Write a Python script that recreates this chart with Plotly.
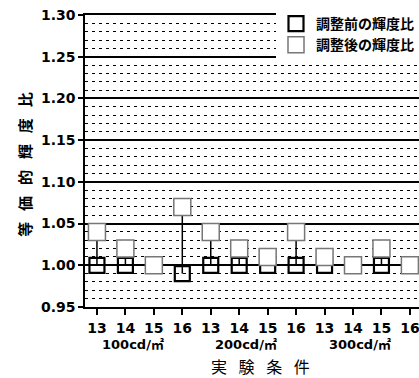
import plotly.graph_objects as go

# luminance levels and experimental conditions
levels = ["100cd/㎡", "200cd/㎡", "300cd/㎡"]
conditions = ["13", "14", "15", "16"]

# equivalent luminance ratio before / after adjustment
before = [1.00, 1.00, 1.00, 0.99, 1.00, 1.00, 1.00, 1.00, 1.00, 1.00, 1.00, 1.00]
after = [1.04, 1.02, 1.00, 1.07, 1.04, 1.02, 1.01, 1.04, 1.01, 1.00, 1.02, 1.00]

y_ticks = [0.95, 1.00, 1.05, 1.10, 1.15, 1.20, 1.25, 1.30]

series_names = ["調整前の輝度比", "調整後の輝度比"]
y_title = "等価的輝度比"
x_title = "実験条件"

x = list(range(len(before)))
tick_text = conditions * len(levels)

NUM_FONT = "DejaVu Sans"
JP_FONT = "Noto Sans CJK JP"


def spaced(text, sep):
    return sep.join(text)


# vertical connectors between the two ratios of each condition
cx, cy = [], []
for i in x:
    cx += [i, i, None]
    cy += [after[i], before[i], None]

fig = go.Figure()
fig.add_trace(go.Scatter(
    x=cx, y=cy, mode="lines", showlegend=False, hoverinfo="skip",
    line=dict(color="black", width=1.5),
))
fig.add_trace(go.Scatter(
    x=x, y=before, mode="markers", name=series_names[0],
    marker=dict(symbol="square", size=15, color="rgba(0,0,0,0)",
                line=dict(color="black", width=2.2)),
))
fig.add_trace(go.Scatter(
    x=x, y=after, mode="markers", name=series_names[1],
    marker=dict(symbol="square", size=17, color="white",
                line=dict(color="#777777", width=1.5)),
))

n_per_group = len(conditions)
annotations = []
for g, lab in enumerate(levels):
    center = g * n_per_group + (n_per_group - 1) / 2
    annotations.append(dict(
        x=center, y=-0.127, xref="x", yref="paper", xshift=-7,
        text=lab, showarrow=False, yanchor="middle",
        font=dict(family=NUM_FONT + ", " + JP_FONT, size=13, color="black", weight="bold"),
    ))
annotations.append(dict(
    x=0.5, y=-0.202, xref="paper", yref="paper", xshift=8,
    text=spaced(x_title, "\u2002 "), showarrow=False, yanchor="middle",
    font=dict(family=JP_FONT, size=16, color="black"),
))
annotations.append(dict(
    x=-0.18, y=0.49, xref="paper", yref="paper", textangle=-90,
    text=spaced(y_title, "\u2002 "), showarrow=False,
    xanchor="center", yanchor="middle",
    font=dict(family=JP_FONT, size=15, color="black", weight="bold"),
))

fig.update_layout(
    width=419, height=378,
    margin=dict(l=85, r=0, t=15, b=71),
    paper_bgcolor="white", plot_bgcolor="white",
    showlegend=True,
    legend=dict(
        x=1, y=1.024, xanchor="right", yanchor="top",
        bgcolor="white", borderwidth=0,
        font=dict(family=JP_FONT, size=14, color="black", weight="bold"),
        tracegroupgap=0, itemwidth=30,
    ),
    annotations=annotations,
    xaxis=dict(
        range=[-0.42, 11.32],
        tickmode="array", tickvals=x, ticktext=tick_text,
        ticks="outside", ticklen=6, tickwidth=1.5, tickcolor="black",
        ticklabeloverflow="allow", ticklabelstandoff=1,
        showline=True, linecolor="black", linewidth=1.5, mirror=True,
        showgrid=False, zeroline=False,
        tickfont=dict(family=NUM_FONT, size=14, color="black", weight="bold"),
    ),
    yaxis=dict(
        range=[0.95, 1.30],
        tickmode="array", tickvals=y_ticks,
        ticktext=[f"{v:.2f}" for v in y_ticks],
        ticks="outside", ticklen=5, tickwidth=1.5, tickcolor="black",
        showline=True, linecolor="black", linewidth=1.5,
        showgrid=True, gridcolor="black", gridwidth=1.5,
        zeroline=False,
        minor=dict(dtick=0.01, tick0=0.95, showgrid=True, gridcolor="black",
                   gridwidth=1.3, griddash="3px,4px", ticks=""),
        tickfont=dict(family=NUM_FONT, size=14, color="black", weight="bold"),
    ),
)

fig.write_html("out.html")
